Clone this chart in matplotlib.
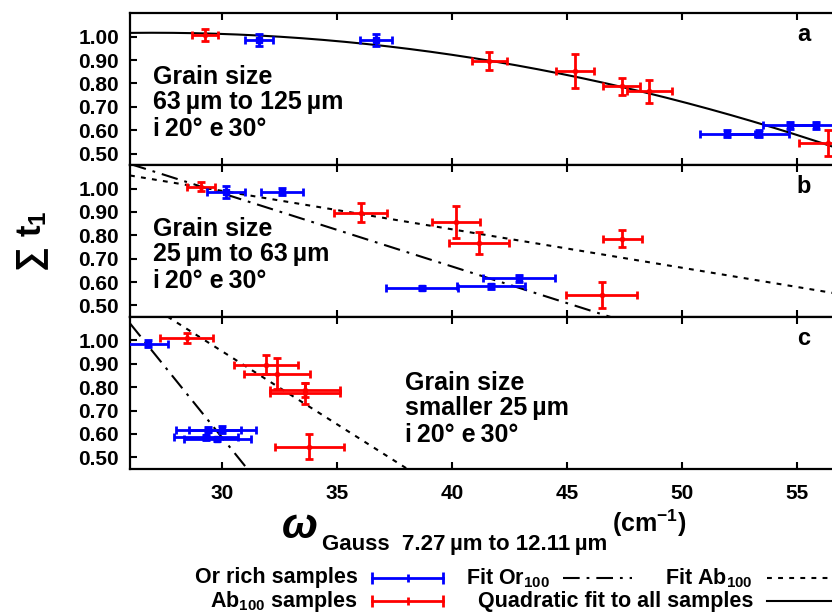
import numpy as np
import matplotlib
matplotlib.use('Agg')
import matplotlib.pyplot as plt
from matplotlib.lines import Line2D


"""Font Settings"""
plt.rcParams['font.family'] = ['Liberation Sans', 'DejaVu Sans']
plt.rcParams['font.weight'] = 'bold'
plt.rcParams['mathtext.fontset'] = 'custom'
plt.rcParams['mathtext.rm'] = 'Liberation Sans:bold'
plt.rcParams['mathtext.bf'] = 'Liberation Sans:bold'
plt.rcParams['mathtext.sf'] = 'Liberation Sans:bold'
plt.rcParams['mathtext.it'] = 'Liberation Sans:italic:bold'
plt.rcParams['lines.scale_dashes'] = False


"""Data: (a) 63-125 um, (b) 25-63 um, (c) < 25 um"""
# Ab100 samples (red)
ab_x_a = [29.26, 41.62, 45.35, 47.38, 48.58, 56.33]
ab_y_a = [1.007, 0.895, 0.853, 0.787, 0.766, 0.544]
ab_xerr_a = [0.56, 0.75, 0.83, 0.81, 0.98, 1.25]
ab_yerr_a = [0.025, 0.038, 0.072, 0.036, 0.050, 0.055]

ab_x_b = [29.09, 36.04, 40.17, 41.17, 47.40, 46.51]
ab_y_b = [1.008, 0.897, 0.857, 0.767, 0.786, 0.545]
ab_xerr_b = [0.62, 1.15, 1.06, 1.30, 0.85, 1.54]
ab_yerr_b = [0.020, 0.041, 0.070, 0.049, 0.036, 0.054]

ab_x_c = [28.46, 31.91, 32.40, 33.60, 33.60, 33.80]
ab_y_c = [1.009, 0.897, 0.858, 0.790, 0.775, 0.546]
ab_xerr_c = [1.17, 1.38, 1.43, 1.52, 1.52, 1.49]
ab_yerr_c = [0.021, 0.040, 0.067, 0.030, 0.045, 0.054]

# Or rich samples (blue)
or_x_a = [31.62, 36.70, 51.97, 53.35, 54.70, 55.83]
or_y_a = [0.985, 0.985, 0.584, 0.584, 0.620, 0.620]
or_xerr_a = [0.61, 0.69, 1.20, 1.30, 1.17, 1.20]
or_yerr_a = [0.025, 0.025, 0.015, 0.015, 0.015, 0.015]

or_x_b = [30.17, 32.62, 38.68, 41.68, 42.91]
or_y_b = [0.986, 0.986, 0.575, 0.582, 0.616]
or_xerr_b = [0.82, 0.91, 1.57, 1.48, 1.57]
or_yerr_b = [0.025, 0.015, 0.010, 0.010, 0.015]

or_x_c = [26.77, 29.40, 30.01, 29.30, 29.80]
or_y_c = [0.987, 0.618, 0.618, 0.585, 0.578]
or_xerr_c = [0.88, 1.41, 1.45, 1.40, 1.45]
or_yerr_c = [0.015, 0.010, 0.015, 0.010, 0.010]

# fits: quadratic to all samples (a), linear Or100 / Ab100 (b, c)  -> (c0, c1, c2)
quad_fit_a = (0.610, 0.03013, -0.000558)
or_fit_b = (1.9206, -0.03135)
ab_fit_b = (1.4837, -0.01645)
or_fit_c = (4.245, -0.122)
ab_fit_c = (2.829, -0.0625)

panel_letters = ['a', 'b', 'c']
grain_text = [['Grain size', '63\u2009µm to 125\u2009µm', 'i\u200920° e\u200930°'],
              ['Grain size', '25\u2009µm to 63\u2009µm', 'i\u200920° e\u200930°'],
              ['Grain size', 'smaller 25\u2009µm', 'i\u200920° e\u200930°']]
y_ticks = [0.50, 0.60, 0.70, 0.80, 0.90, 1.00]
x_ticks = [30, 35, 40, 45, 50, 55]

BLUE = '#0000ff'
RED = '#ff0000'
DASHDOT = (0, (12, 5, 2, 5))
DOTTED = (0, (3.5, 4.5))


"""Figure and Axes"""
W, H = 832.0, 613.0
fig = plt.figure(figsize=(W / 100, H / 100), dpi=100)

left = 130 / W
width = 713 / W
ph = 151.9 / H
bot = 1 - 469 / H
bottoms = [bot + 2 * ph, bot + ph, bot]

ab_data = [(ab_x_a, ab_y_a, ab_xerr_a, ab_yerr_a),
           (ab_x_b, ab_y_b, ab_xerr_b, ab_yerr_b),
           (ab_x_c, ab_y_c, ab_xerr_c, ab_yerr_c)]
or_data = [(or_x_a, or_y_a, or_xerr_a, or_yerr_a),
           (or_x_b, or_y_b, or_xerr_b, or_yerr_b),
           (or_x_c, or_y_c, or_xerr_c, or_yerr_c)]
text_pos = [(27.0, [0.827, 0.720, 0.606]),
            (27.0, [0.829, 0.721, 0.606]),
            (37.95, [0.820, 0.710, 0.595])]

xs = np.linspace(26, 57, 300)
axes = []
for i in range(3):
    ax = fig.add_axes([left, bottoms[i], width, ph])
    axes.append(ax)

    # fits
    if i == 0:
        c0, c1, c2 = quad_fit_a
        ax.plot(xs, c0 + c1 * xs + c2 * xs**2, color='black', lw=1.5, zorder=3)
    else:
        of = or_fit_b if i == 1 else or_fit_c
        af = ab_fit_b if i == 1 else ab_fit_c
        ax.plot(xs, of[0] + of[1] * xs, color='black', lw=1.5, linestyle=DASHDOT, zorder=3)
        ax.plot(xs, af[0] + af[1] * xs, color='black', lw=1.5, linestyle=DOTTED, zorder=3)

    x, y, xe, ye = ab_data[i]
    ax.errorbar(x, y, xerr=xe, yerr=ye, fmt='o', ms=3, color=RED, ecolor=RED,
                elinewidth=2, capsize=3, capthick=2, zorder=4)
    x, y, xe, ye = or_data[i]
    ax.errorbar(x, y, xerr=xe, yerr=ye, fmt='s', ms=4.5, color=BLUE, ecolor=BLUE,
                elinewidth=2, capsize=3, capthick=2, zorder=5)

    ax.set_xticks(x_ticks)
    ax.set_yticks(y_ticks)
    ax.set_yticklabels(['%.2f' % v for v in y_ticks])
    ax.set_xlim(26, 57)
    ax.set_ylim(0.45, 1.10)
    ax.tick_params(axis='both', direction='in', length=5, width=1.5, labelsize=15)
    ax.tick_params(axis='x', top=True, pad=11, labelbottom=(i == 2))
    ax.tick_params(axis='y', pad=8)
    for s in ax.spines.values():
        s.set_linewidth(1.6)

    tx, tys = text_pos[i]
    for line, ty in zip(grain_text[i], tys):
        ax.text(tx, ty, line, fontsize=18, fontweight='bold', va='center', ha='left')
    ax.text(55.3, 1.008, panel_letters[i], fontsize=17, fontweight='bold', ha='center', va='center')


"""Axis labels"""
fig.text(0.040, 0.607, r'$\sum\ \mathrm{t}_{1}$', rotation=90, fontsize=25,
         ha='center', va='center')

fig.text(282 / W, 1 - 538 / H, '\u03c9', fontsize=31, fontweight='bold', fontstyle='italic',
         ha='left', va='baseline')
fig.text(322 / W, 1 - 550 / H, 'Gauss  7.27\u2009µm to 12.11\u2009µm', fontsize=16,
         fontweight='bold', ha='left', va='baseline')
fig.text(612 / W, 1 - 532 / H, r'(cm$^{-1}$)', fontsize=18, fontweight='bold',
         ha='left', va='baseline')


"""Legend (gnuplot style, text left of key)"""
def key(x0, x1, y, color, ls='-', caps=False):
    yf = 1 - y / H
    fig.add_artist(Line2D([x0 / W, x1 / W], [yf, yf], transform=fig.transFigure,
                          color=color, lw=2 if caps else 1.5, linestyle=ls))
    if caps:
        fig.add_artist(Line2D([x0 / W, x1 / W], [yf, yf], transform=fig.transFigure,
                              linestyle='none', marker='|', ms=8, mew=2, color=color))
        fig.add_artist(Line2D([(x0 + x1) / 2 / W], [yf], transform=fig.transFigure,
                              linestyle='none', marker='|', ms=6, mew=2, color=color))

LFS = 15.5
row1, row2 = 578, 601
fig.text(358 / W, 1 - row1 / H, 'Or rich samples', fontsize=LFS, fontweight='bold', ha='right', va='center')
key(372, 443, row1, BLUE, caps=True)
fig.text(550 / W, 1 - row1 / H, r'Fit Or$_{100}$', fontsize=LFS, fontweight='bold', ha='right', va='center')
key(563, 632, row1, 'black', ls=DASHDOT)
fig.text(753 / W, 1 - row1 / H, r'Fit Ab$_{100}$', fontsize=LFS, fontweight='bold', ha='right', va='center')
key(767, 832, row1, 'black', ls=DOTTED)

fig.text(358 / W, 1 - row2 / H, r'Ab$_{100}$ samples', fontsize=LFS, fontweight='bold', ha='right', va='center')
key(372, 443, row2, RED, caps=True)
fig.text(753 / W, 1 - row2 / H, 'Quadratic fit to all samples', fontsize=LFS, fontweight='bold', ha='right', va='center')
key(767, 832, row2, 'black')

fig.savefig('out.png', dpi=100)
